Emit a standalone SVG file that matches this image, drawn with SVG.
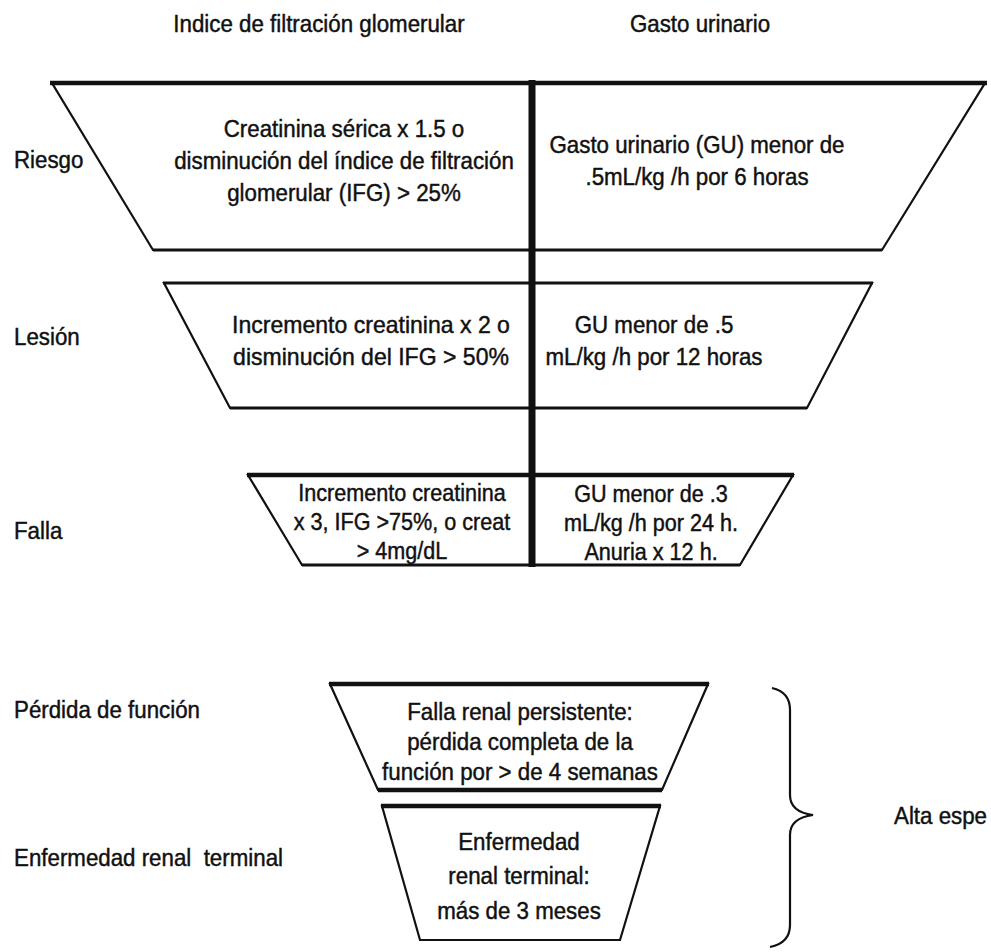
<svg xmlns="http://www.w3.org/2000/svg" width="991" height="952" viewBox="0 0 991 952">
<style>
  text { font-family: "Liberation Sans", Arial, sans-serif; font-size: 24px; fill: #111; stroke: #111; stroke-width: 0.45; }
  .c { text-anchor: middle; }
  .shape { fill: #fff; stroke: #111; stroke-width: 2.2; stroke-linejoin: miter; }
  .thick { stroke: #111; stroke-width: 4.5; }
  .mid { stroke: #111; stroke-width: 3; }
</style>
<rect width="991" height="952" fill="#fff"/>
<g id="headers">
  <text class="c" transform="translate(319,32) scale(0.93,1)">Indice de filtración glomerular</text>
  <text class="c" transform="translate(700,32) scale(0.93,1)">Gasto urinario</text>
</g>
<g id="labels">
  <text transform="translate(14,168) scale(0.93,1)">Riesgo</text>
  <text transform="translate(14,345) scale(0.93,1)">Lesión</text>
  <text transform="translate(14,539) scale(0.93,1)">Falla</text>
  <text transform="translate(14,718) scale(0.93,1)">Pérdida de función</text>
  <text transform="translate(14,866) scale(0.93,1)" xml:space="preserve">Enfermedad renal  terminal</text>
  <text transform="translate(894,824) scale(0.93,1)">Alta espe</text>
</g>
<g id="riesgo">
  <polygon class="shape" points="52,83 985,83 882,250 153,250"/>
  <line class="thick" x1="50" y1="83" x2="987" y2="83"/>
  <line class="mid" x1="153" y1="250" x2="882" y2="250"/>
  <text class="c" transform="translate(344,137) scale(0.93,1)">Creatinina sérica x 1.5 o</text>
  <text class="c" transform="translate(344,169) scale(0.93,1)">disminución del índice de filtración</text>
  <text class="c" transform="translate(344,201) scale(0.93,1)">glomerular (IFG) &gt; 25%</text>
  <text class="c" transform="translate(697,153) scale(0.93,1)">Gasto urinario (GU) menor de</text>
  <text class="c" transform="translate(697,185) scale(0.93,1)">.5mL/kg /h por 6 horas</text>
</g>
<g id="lesion">
  <polygon class="shape" points="164,283 872,283 807,408 230,408"/>
  <line class="mid" x1="163" y1="283" x2="873" y2="283"/>
  <line class="mid" x1="230" y1="408" x2="807" y2="408"/>
  <text class="c" transform="translate(371,333) scale(0.96,1)">Incremento creatinina x 2 o</text>
  <text class="c" transform="translate(371,365) scale(0.96,1)">disminución del IFG &gt; 50%</text>
  <text class="c" transform="translate(654,333) scale(0.93,1)">GU menor de .5</text>
  <text class="c" transform="translate(654,365) scale(0.93,1)">mL/kg /h por 12 horas</text>
</g>
<g id="falla">
  <polygon class="shape" points="248,475 793,475 740,565 302,565"/>
  <line class="thick" x1="247" y1="475" x2="794" y2="475"/>
  <line class="mid" x1="302" y1="565" x2="740" y2="565"/>
  <text class="c" transform="translate(402,501) scale(0.9,1)">Incremento creatinina</text>
  <text class="c" transform="translate(402,530) scale(0.9,1)">x 3, IFG &gt;75%, o creat</text>
  <text class="c" transform="translate(402,559) scale(0.9,1)">&gt; 4mg/dL</text>
  <text class="c" transform="translate(651,502) scale(0.9,1)">GU menor de .3</text>
  <text class="c" transform="translate(651,531) scale(0.9,1)">mL/kg /h por 24 h.</text>
  <text class="c" transform="translate(651,560) scale(0.9,1)">Anuria x 12 h.</text>
</g>
<g id="perdida">
  <polygon class="shape" points="330,684 708,684 662,790 378,790"/>
  <line class="thick" x1="329" y1="684" x2="709" y2="684"/>
  <line class="thick" x1="378" y1="790" x2="662" y2="790"/>
  <text class="c" transform="translate(520,720) scale(0.93,1)">Falla renal persistente:</text>
  <text class="c" transform="translate(520,750) scale(0.93,1)">pérdida completa de la</text>
  <text class="c" transform="translate(520,780) scale(0.93,1)">función por &gt; de 4 semanas</text>
</g>
<g id="terminal">
  <polygon class="shape" points="382,806 660,806 620,940 420,940"/>
  <line class="thick" x1="381" y1="806" x2="661" y2="806"/>
  <text class="c" transform="translate(519,850) scale(0.93,1)">Enfermedad</text>
  <text class="c" transform="translate(519,884) scale(0.93,1)">renal terminal:</text>
  <text class="c" transform="translate(519,919) scale(0.93,1)">más de 3 meses</text>
</g>
<g id="connectors">
  <line x1="532" y1="80" x2="532" y2="567" stroke="#111" stroke-width="7"/>
  <path d="M772,688 Q790,692 790,710 L790,795 Q790,812 813,815 Q790,818 790,835 L790,925 Q790,943 770,947" fill="none" stroke="#111" stroke-width="2.2"/>
</g>
</svg>
